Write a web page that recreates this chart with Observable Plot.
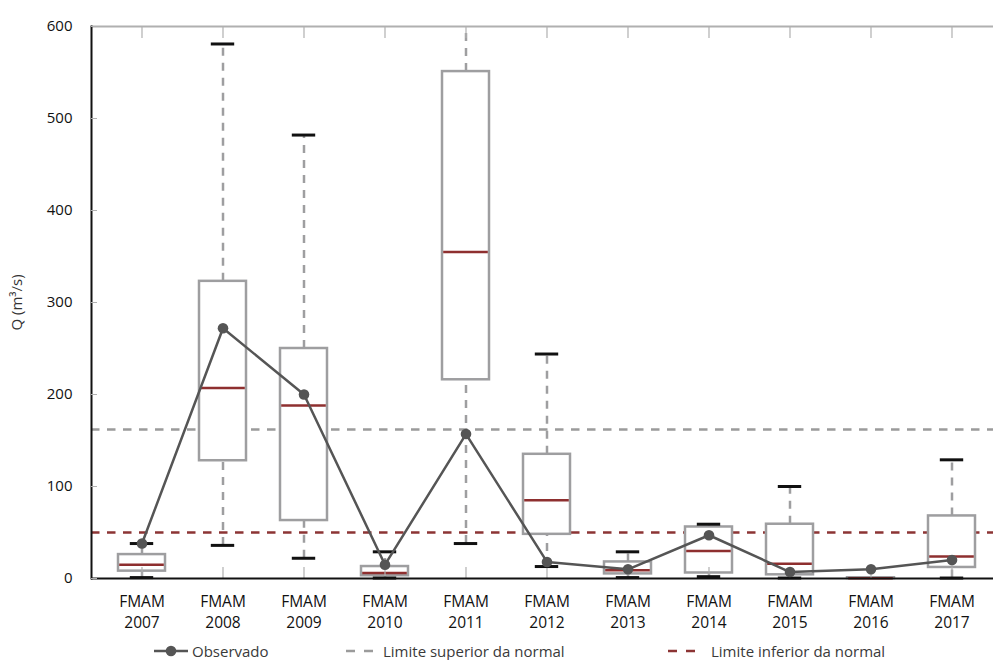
<!DOCTYPE html>
<html><head><meta charset="utf-8">
<script src="https://cdn.jsdelivr.net/npm/d3@7"></script>
<script src="https://cdn.jsdelivr.net/npm/@observablehq/plot@0.6"></script>
<style>
html,body{margin:0;padding:0;background:#fff;overflow:hidden;width:993px;height:660px}
#chart{position:relative;width:993px;height:660px;font-family:"Open Sans",sans-serif}
#chart svg{display:block}
.legend{position:absolute;top:641px;left:0;width:993px;height:20px;font-size:15px;color:#3a3a3a;font-family:"Open Sans",sans-serif}
.txt{position:absolute;top:0;line-height:20px;white-space:nowrap}
</style></head><body><div id="chart"></div>
<script>
const years = [2007, 2008, 2009, 2010, 2011, 2012, 2013, 2014, 2015, 2016, 2017];
const period = "FMAM";
const whiskerHigh = [38, 581, 482, 29, 640, 244, 29, 59, 100, null, 129];
const q3 = [26, 323, 250, 13, 551, 135, 18, 56, 59, 0.8, 68];
const median = [15, 207, 188, 6, 355, 85, 9, 30, 16, 0.4, 24];
const q1 = [8, 128, 63, 3, 216, 48, 5, 6, 4, 0, 12];
const whiskerLow = [1, 36, 22, 0.5, 38, 13, 1, 2, 0.5, null, 0.5];
const observed = [38, 272, 200, 15, 157, 18, 10, 47, 7, 10, 20];
const upperLimit = 162;
const lowerLimit = 50;
const yTicks = [0, 100, 200, 300, 400, 500, 600];
const yLabel = "Q (m³/s)";
const legendLabels = ["Observado", "Limite superior da normal", "Limite inferior da normal"];

const rows = years.map((y, i) => ({year: y, lo: whiskerLow[i], q1: q1[i], med: median[i], q3: q3[i], hi: whiskerHigh[i], obs: observed[i]}));
const withWhisker = rows.filter(d => d.hi != null);

const gray = "#9e9ea0";
const red = "#8e2f2f";
const font = "'Open Sans', sans-serif";

const plot = Plot.plot({
  width: 993, height: 630,
  marginLeft: 91, marginRight: 0, marginTop: 26, marginBottom: 52,
  style: {fontFamily: font, background: "white", overflow: "visible"},
  x: {type: "band", domain: years, range: [91, 1002], paddingInner: 0.418, paddingOuter: 0.28},
  y: {domain: [0, 600], range: [578, 26]},
  marks: [
    Plot.ruleY([upperLimit], {stroke: "#9b9b9b", strokeWidth: 2.5, strokeDasharray: "8.5,7.5"}),
    Plot.ruleY([lowerLimit], {stroke: "#8c3434", strokeWidth: 2.5, strokeDasharray: "8.5,7.5"}),
    Plot.ruleX(withWhisker, {x: "year", y1: "q3", y2: "hi", stroke: gray, strokeWidth: 2.5, strokeDasharray: "8,7", clip: true}),
    Plot.ruleX(withWhisker, {x: "year", y1: "lo", y2: "q1", stroke: gray, strokeWidth: 2.5, strokeDasharray: "8,7"}),
    Plot.barY(rows, {x: "year", y1: "q1", y2: "q3", fill: "white", stroke: gray, strokeWidth: 2.5}),
    Plot.tickY(rows, {x: "year", y: "med", stroke: red, strokeWidth: 2.5, insetLeft: 1.2, insetRight: 1.2}),
    Plot.ruleY([600], {stroke: "#b0b0b0", strokeWidth: 2}),
    Plot.axisX({anchor: "top", tickSize: 11, dy: 11, tickFormat: () => "", stroke: "#b0b0b0", strokeWidth: 1.2, label: null}),
    Plot.axisX({anchor: "bottom", tickSize: 11, dy: -11, tickFormat: () => "", stroke: "#b0b0b0", strokeWidth: 1.2, label: null}),
    Plot.ruleY([0], {stroke: "#111", strokeWidth: 2}),
    Plot.frame({anchor: "left", stroke: "#111", strokeWidth: 2}),
    Plot.tickY(withWhisker, {x: "year", y: "hi", stroke: "#111", strokeWidth: 3, insetLeft: 11.8, insetRight: 11.8, clip: true}),
    Plot.tickY(withWhisker, {x: "year", y: "lo", stroke: "#111", strokeWidth: 3, insetLeft: 11.8, insetRight: 11.8}),
    Plot.line(rows, {x: "year", y: "obs", stroke: "#555", strokeWidth: 2.5}),
    Plot.dot(rows, {x: "year", y: "obs", r: 5.3, fill: "#555", stroke: "none"}),
    Plot.axisY({ticks: yTicks, tickSize: 6, dx: 6, tickFormat: () => "", stroke: "#b0b0b0", label: null}),
    Plot.axisY({ticks: yTicks, tickSize: 0, tickPadding: 19, fontSize: 15, fontWeight: 500, fill: "#111", label: null}),
    Plot.text([yLabel], {frameAnchor: "left", textAnchor: "middle", dx: -74, rotate: -90, fontSize: 15, fill: "#333", text: d => d}),
    Plot.axisX({tickSize: 0, tickPadding: 14, tickFormat: d => `${period}\n${d}`, fontSize: 15.5, lineHeight: 1.35, fill: "#111", label: null})
  ]
});
const chart = document.getElementById("chart");
chart.appendChild(plot);

// legend
const legend = document.createElement("div");
legend.className = "legend";
const ns = "http://www.w3.org/2000/svg";
function swatch(left, kind) {
  const s = document.createElementNS(ns, "svg");
  s.setAttribute("width", 36); s.setAttribute("height", 20);
  s.style.position = "absolute"; s.style.left = left + "px"; s.style.top = "0px";
  if (kind === "obs") {
    s.innerHTML = `<line x1="0" x2="34" y1="10" y2="10" stroke="#555" stroke-width="2.5"/><circle cx="17" cy="10" r="5.3" fill="#555"/>`;
  } else {
    const c = kind === "up" ? "#9b9b9b" : "#8c3434";
    s.innerHTML = `<line x1="0" x2="27" y1="10" y2="10" stroke="${c}" stroke-width="2.5" stroke-dasharray="9,9"/>`;
  }
  legend.appendChild(s);
}
function label(left, t) {
  const d = document.createElement("div");
  d.className = "txt"; d.style.left = left + "px"; d.textContent = t;
  legend.appendChild(d);
}
swatch(154, "obs"); label(192, legendLabels[0]);
swatch(346, "up"); label(383, legendLabels[1]);
swatch(668, "low"); label(711, legendLabels[2]);
chart.appendChild(legend);
</script>
</body></html>
